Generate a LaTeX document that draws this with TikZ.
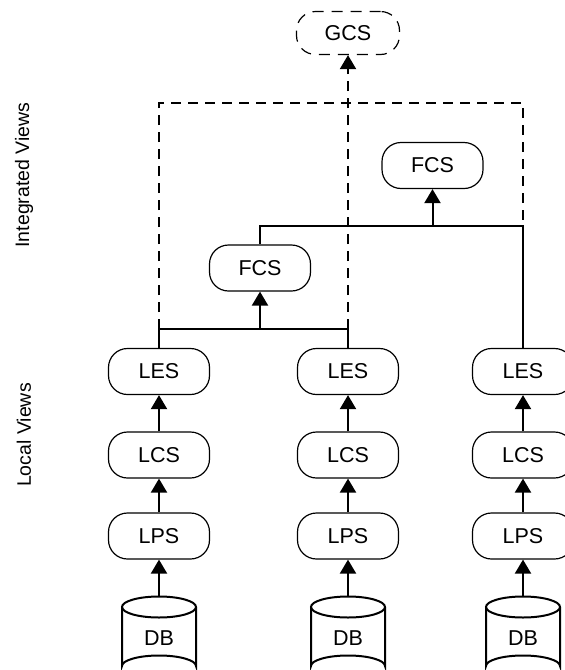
\documentclass[tikz,border=0pt]{standalone}
\usepackage{fontspec}
\setmainfont{Liberation Sans}
\usetikzlibrary{arrows.meta}
\begin{document}
\begin{tikzpicture}[x=1pt,y=-1pt,
  schema/.style={draw, line width=1.2pt, rounded corners=19pt,
    minimum width=101pt, minimum height=46pt, inner sep=0pt,
    font=\fontsize{21.5}{25}\selectfont},
  gschema/.style={schema, dash pattern=on 11pt off 8pt, minimum width=103pt, minimum height=43pt},
  conn/.style={line width=2pt},
  tip/.tip={Triangle[length=14pt,width=16pt]},
  uparrow/.style={conn, -tip},
  dconn/.style={line width=2pt, dash pattern=on 10pt off 7pt},
  dbline/.style={line width=2pt},
  sidelabel/.style={rotate=90, font=\fontsize{19.5}{23}\selectfont}
]
\useasboundingbox (0,0) rectangle (565,670);
\clip (0,0) rectangle (565,670);

% side captions
\node[sidelabel] (intv) at (24,175) {Integrated Views};
\node[sidelabel] (locv) at (24,435) {Local Views};

% three local stacks
\foreach \c/\x in {1/159, 2/348, 3/523} {
  \node[schema] (les\c) at (\x,371.5) {LES};
  \node[schema] (lcs\c) at (\x,455) {LCS};
  \node[schema] (lps\c) at (\x,536) {LPS};
  % database cylinder
  \draw[dbline, fill=white] (\x-37,607) -- (\x-37,666) arc (180:0:37pt and 10.5pt) -- (\x+37,607);
  \draw[dbline] (\x,607) ellipse (37pt and 10.5pt);
  \coordinate (dbtop\c) at (\x,596.5);
  \node[font=\fontsize{21.5}{25}\selectfont] (db\c) at (\x,638) {DB};
  \draw[uparrow] (dbtop\c) -- (lps\c.south);
  \draw[uparrow] (lps\c.north) -- (lcs\c.south);
  \draw[uparrow] (lcs\c.north) -- (les\c.south);
}

% federated schemas and global schema
\node[schema] (fcs1) at (260,268) {FCS};
\node[schema] (fcs2) at (432.5,165.5) {FCS};
\node[gschema] (gcs) at (348,33) {GCS};

% junction points
\coordinate (j1) at (260,329);
\coordinate (j2) at (432.5,226);
\coordinate (dtop) at (0,103);

% first federation: LES 1 and LES 2 into the lower FCS
\draw[conn] (les1.north) -- (les1.north |- j1) -- (les2.north |- j1) -- (les2.north);
\draw[uparrow] (j1) -- (fcs1.south);

% second federation: lower FCS and LES 3 into the upper FCS
\draw[conn] (fcs1.north) -- (fcs1.north |- j2) -- (les3.north |- j2) -- (les3.north);
\draw[uparrow] (j2) -- (fcs2.south);

% global integration (dashed)
\draw[dconn] (les1.north |- j1) -- (les1.north |- dtop) -- (les3.north |- dtop) -- (les3.north |- j2);
\draw[dconn, -tip] (les2.north |- j1) -- (gcs.south);
\end{tikzpicture}
\end{document}
